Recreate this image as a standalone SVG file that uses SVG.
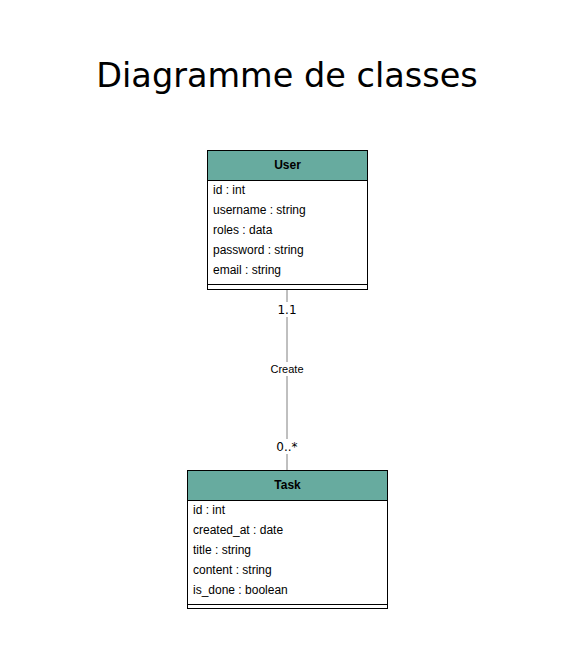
<svg xmlns="http://www.w3.org/2000/svg" width="574" height="659" viewBox="0 0 574 659">
<style>
.box{fill:#fff;stroke:#000;stroke-width:1}
.head{fill:#67AB9F;stroke:#000;stroke-width:1}
.sep{stroke:#000;stroke-width:1}
.name{font-family:"Liberation Sans",Arial,sans-serif;font-size:12px;font-weight:bold;text-anchor:middle;fill:#000}
.attr{font-family:"Liberation Sans",Arial,sans-serif;font-size:12px;fill:#000}
.mult{font-family:"DejaVu Sans",Verdana,sans-serif;font-size:12px;text-anchor:middle;fill:#000}
.lbl{font-family:"Liberation Sans",Arial,sans-serif;font-size:11px;text-anchor:middle;fill:#000}
.title{font-family:"DejaVu Sans",Verdana,sans-serif;font-size:33.5px;text-anchor:middle;fill:#000}
.bg{fill:#fff}
</style>
<rect width="574" height="659" fill="#fff"/>
<text class="title" x="287" y="87">Diagramme de classes</text>
<g id="connectors">
<line x1="287" y1="289" x2="287" y2="470" stroke="#808080" stroke-width="1"/>
<rect class="bg" x="276" y="302" width="22" height="15"/>
<text class="mult" x="287" y="314">1.1</text>
<rect class="bg" x="269" y="362" width="36" height="14"/>
<text class="lbl" x="287" y="373">Create</text>
<rect class="bg" x="273" y="439" width="28" height="15"/>
<text class="mult" x="287" y="451">0..*</text>
</g>
<g id="user">
<rect class="box" x="207.5" y="150.5" width="160" height="139"/>
<rect class="head" x="207.5" y="150.5" width="160" height="30"/>
<text class="name" x="287.5" y="169">User</text>
<text class="attr" x="213" y="194">id : int</text>
<text class="attr" x="213" y="214">username : string</text>
<text class="attr" x="213" y="234">roles : data</text>
<text class="attr" x="213" y="254">password : string</text>
<text class="attr" x="213" y="274">email : string</text>
<line class="sep" x1="207.5" y1="284.5" x2="367.5" y2="284.5"/>
</g>
<g id="task">
<rect class="box" x="187.5" y="470.5" width="200" height="138"/>
<rect class="head" x="187.5" y="470.5" width="200" height="30"/>
<text class="name" x="287.5" y="489">Task</text>
<text class="attr" x="193" y="514">id : int</text>
<text class="attr" x="193" y="534">created_at : date</text>
<text class="attr" x="193" y="554">title : string</text>
<text class="attr" x="193" y="574">content : string</text>
<text class="attr" x="193" y="594">is_done : boolean</text>
<line class="sep" x1="187.5" y1="604.5" x2="387.5" y2="604.5"/>
</g>
</svg>
